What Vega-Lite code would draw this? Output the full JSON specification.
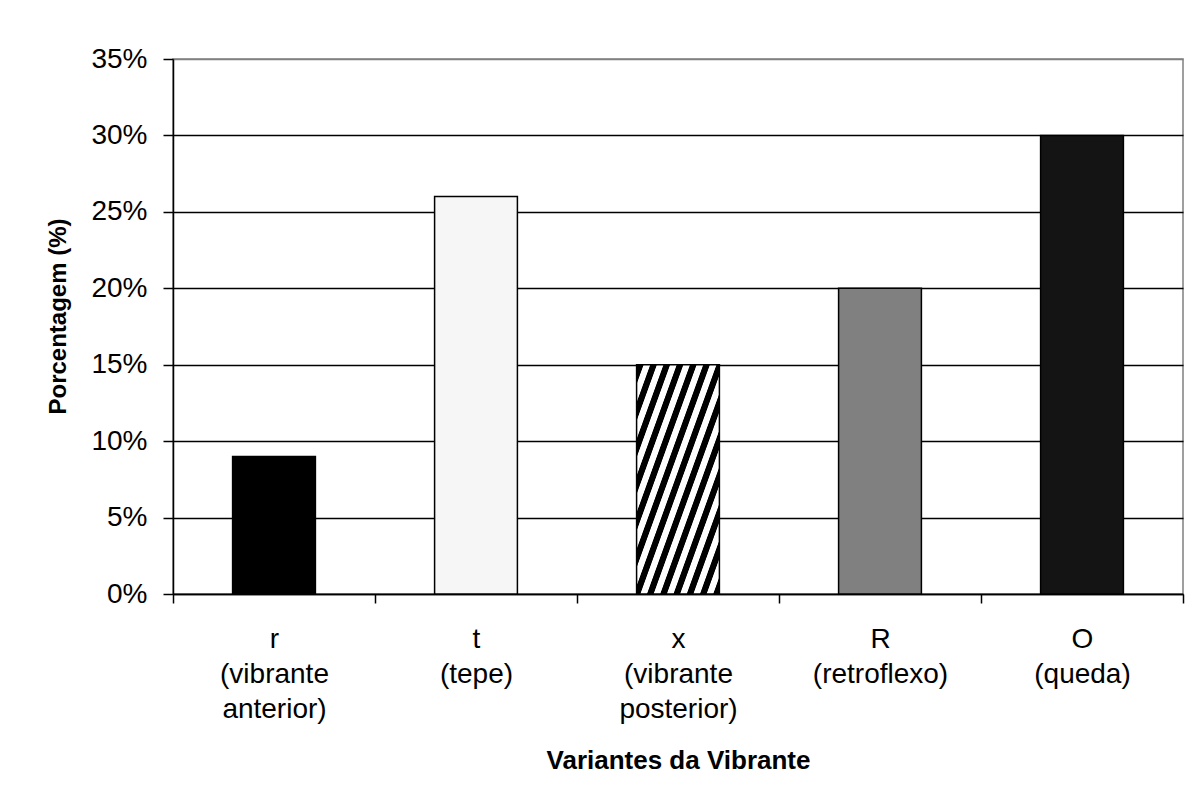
{
  "$schema": "https://vega.github.io/schema/vega-lite/v6.json",
  "autosize": "none",
  "width": 1010,
  "height": 535,
  "padding": {"left": 173, "top": 59, "right": 4, "bottom": 204},
  "background": "white",
  "data": {
    "values": [
      {"variante": "r|(vibrante|anterior)", "code": "r", "pct": 0.09},
      {"variante": "t|(tepe)", "code": "t", "pct": 0.26},
      {"variante": "x|(vibrante|posterior)", "code": "x", "pct": 0.15},
      {"variante": "R|(retroflexo)", "code": "R", "pct": 0.20},
      {"variante": "O|(queda)", "code": "O", "pct": 0.30}
    ]
  },
  "mark": {"type": "bar", "stroke": "black", "strokeWidth": 1.5, "width": {"band": 0.41}},
  "encoding": {
    "x": {
      "field": "variante",
      "type": "nominal",
      "sort": null,
      "scale": {"paddingInner": 0, "paddingOuter": 0},
      "axis": {
        "title": "Variantes da Vibrante",
        "labelExpr": "split(datum.label, '|')",
        "labelAngle": 0,
        "labelFontSize": 28,
        "labelLineHeight": 35,
        "labelPadding": 22,
        "labelColor": "black",
        "labelFont": "Liberation Sans",
        "tickBand": "extent",
        "tickSize": 9,
        "tickWidth": 1.5,
        "tickColor": "black",
        "domainColor": "black",
        "domainWidth": 1.5,
        "grid": false,
        "titleFont": "Liberation Sans",
        "titleFontSize": 26,
        "titleFontWeight": "bold",
        "titleColor": "black",
        "titleBaseline": "alphabetic",
        "titleY": 174
      }
    },
    "y": {
      "field": "pct",
      "type": "quantitative",
      "scale": {"domain": [0, 0.35], "nice": false},
      "axis": {
        "title": "Porcentagem (%)",
        "format": ".0%",
        "values": [0, 0.05, 0.1, 0.15, 0.2, 0.25, 0.3, 0.35],
        "labelFontSize": 28,
        "labelColor": "black",
        "labelFont": "Liberation Sans",
        "labelPadding": 16,
        "tickSize": 10,
        "tickWidth": 1.5,
        "tickColor": "black",
        "domainColor": "black",
        "domainWidth": 1.5,
        "grid": true,
        "gridWidth": 1.5,
        "gridColor": {"condition": {"test": "datum.value >= 0.349", "value": "#808080"}, "value": "black"},
        "titleFont": "Liberation Sans",
        "titleFontSize": 24,
        "titleFontWeight": "bold",
        "titleColor": "black",
        "titleBaseline": "alphabetic",
        "titleX": -108,
        "titleY": 257
      }
    },
    "fill": {
      "condition": [
        {
          "test": "datum.code === 'x'",
          "value": {
            "gradient": "linear",
            "x1": 0, "y1": 0, "x2": 1, "y2": 1,
            "stops": [
              {"offset": 0.0, "color": "black"},
              {"offset": 0.04, "color": "black"},
              {"offset": 0.045, "color": "white"},
              {"offset": 0.08, "color": "white"},
              {"offset": 0.085, "color": "black"},
              {"offset": 0.12, "color": "black"},
              {"offset": 0.125, "color": "white"},
              {"offset": 0.16, "color": "white"},
              {"offset": 0.165, "color": "black"},
              {"offset": 0.2, "color": "black"},
              {"offset": 0.205, "color": "white"},
              {"offset": 0.24, "color": "white"},
              {"offset": 0.245, "color": "black"},
              {"offset": 0.28, "color": "black"},
              {"offset": 0.285, "color": "white"},
              {"offset": 0.32, "color": "white"},
              {"offset": 0.325, "color": "black"},
              {"offset": 0.36, "color": "black"},
              {"offset": 0.365, "color": "white"},
              {"offset": 0.4, "color": "white"},
              {"offset": 0.405, "color": "black"},
              {"offset": 0.44, "color": "black"},
              {"offset": 0.445, "color": "white"},
              {"offset": 0.48, "color": "white"},
              {"offset": 0.485, "color": "black"},
              {"offset": 0.52, "color": "black"},
              {"offset": 0.525, "color": "white"},
              {"offset": 0.56, "color": "white"},
              {"offset": 0.565, "color": "black"},
              {"offset": 0.6, "color": "black"},
              {"offset": 0.605, "color": "white"},
              {"offset": 0.64, "color": "white"},
              {"offset": 0.645, "color": "black"},
              {"offset": 0.68, "color": "black"},
              {"offset": 0.685, "color": "white"},
              {"offset": 0.72, "color": "white"},
              {"offset": 0.725, "color": "black"},
              {"offset": 0.76, "color": "black"},
              {"offset": 0.765, "color": "white"},
              {"offset": 0.8, "color": "white"},
              {"offset": 0.805, "color": "black"},
              {"offset": 0.84, "color": "black"},
              {"offset": 0.845, "color": "white"},
              {"offset": 0.88, "color": "white"},
              {"offset": 0.885, "color": "black"},
              {"offset": 0.92, "color": "black"},
              {"offset": 0.925, "color": "white"},
              {"offset": 0.96, "color": "white"},
              {"offset": 0.965, "color": "black"},
              {"offset": 1.0, "color": "black"}
            ]
          }
        }
      ],
      "field": "code",
      "type": "nominal",
      "scale": {
        "domain": ["r", "t", "x", "R", "O"],
        "range": ["#000000", "#f6f6f6", "#777777", "#808080", "#141414"]
      },
      "legend": null
    }
  },
  "config": {
    "font": "Liberation Sans",
    "view": {"stroke": "#808080", "strokeWidth": 1.5}
  }
}
